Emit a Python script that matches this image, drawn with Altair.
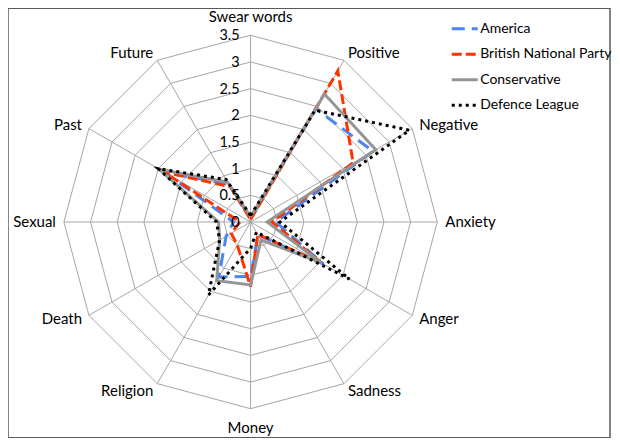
import altair as alt
import pandas as pd

categories = ["Swear words", "Positive", "Negative", "Anxiety", "Anger", "Sadness",
              "Money", "Religion", "Death", "Sexual", "Past", "Future"]
series_names = ["America", "British National Party", "Conservative", "Defence League"]
america = [0.08, 2.45, 2.65, 0.47, 1.58, 0.28, 1.02, 1.19, 0.53, 0.32, 1.85, 0.82]
bnp = [0.05, 3.27, 2.22, 0.40, 1.55, 0.27, 1.21, 0.50, 0.42, 0.20, 1.88, 0.76]
conservative = [0.10, 2.77, 2.71, 0.31, 1.53, 0.39, 1.18, 1.27, 0.67, 0.60, 1.98, 0.86]
defence = [0.12, 2.42, 3.44, 0.55, 2.14, 0.22, 0.49, 1.58, 0.67, 0.64, 2.00, 0.92]
tick_values = [0, 0.5, 1, 1.5, 2, 2.5, 3, 3.5]
tick_labels = ["0", "0.5", "1", "1.5", "2", "2.5", "3", "3.5"]

colors = ["#4a86f0", "#ff3300", "#959595", "#000000"]
dashes = [[13, 7], [10, 4], [1, 0], [3, 4]]
widths = [3, 3, 3.5, 3]

n = len(categories)
values = [america, bnp, conservative, defence]

rows = []
for name, vals in zip(series_names, values):
    for i in range(n + 1):
        rows.append({"series": name, "idx": i, "value": vals[i % n]})
lines_df = pd.DataFrame(rows)

ring_rows = []
for r in tick_values[1:]:
    for i in range(n + 1):
        ring_rows.append({"ring": r, "idx": i})
rings_df = pd.DataFrame(ring_rows)

spokes_df = pd.DataFrame({"idx": list(range(n)), "r": [tick_values[-1]] * n})
labels_df = pd.DataFrame({"idx": list(range(n)), "category": categories})
ticks_df = pd.DataFrame({"v": tick_values, "label": tick_labels})

W, H = 603, 430
xs = alt.Scale(domain=[-4.548, 6.738], nice=False, zero=False)
ys = alt.Scale(domain=[-4.043, 4.005], nice=False, zero=False)

ang = "datum.idx * PI / 6"

rings = alt.Chart(rings_df).mark_line(color="#a6a6a6", strokeWidth=1).transform_calculate(
    x=f"datum.ring * sin({ang})", y=f"datum.ring * cos({ang})"
).encode(
    x=alt.X("x:Q", scale=xs, axis=None),
    y=alt.Y("y:Q", scale=ys, axis=None),
    detail="ring:N",
    order="idx:Q",
)

spokes = alt.Chart(spokes_df).mark_rule(color="#a6a6a6", strokeWidth=1).transform_calculate(
    x=f"datum.r * sin({ang})", y=f"datum.r * cos({ang})", x0="0", y0="0"
).encode(
    x=alt.X("x0:Q", scale=xs, axis=None),
    y=alt.Y("y0:Q", scale=ys, axis=None),
    x2="x:Q",
    y2="y:Q",
)

leg = dict(title=None, orient="none", legendX=443, legendY=6,
           symbolType="stroke", symbolSize=676, symbolStrokeWidth=3,
           labelFont="Lato", labelFontSize=14, labelColor="#000000",
           rowPadding=3.5, labelOffset=1)

series = alt.Chart(lines_df).mark_line(strokeCap="butt", strokeJoin="miter").transform_calculate(
    x=f"datum.value * sin({ang})", y=f"datum.value * cos({ang})"
).encode(
    x=alt.X("x:Q", scale=xs, axis=None),
    y=alt.Y("y:Q", scale=ys, axis=None),
    color=alt.Color("series:N", scale=alt.Scale(domain=series_names, range=colors),
                    legend=alt.Legend(**leg)),
    strokeDash=alt.StrokeDash("series:N", scale=alt.Scale(domain=series_names, range=dashes),
                              legend=alt.Legend(**leg)),
    strokeWidth=alt.StrokeWidth("series:N", scale=alt.Scale(domain=series_names, range=widths), legend=None),
    order="idx:Q",
)

font = "Lato"
fs = 15

def cat_layer(filt, r, align, baseline):
    return alt.Chart(labels_df).transform_filter(filt).transform_calculate(
        x=f"{r} * sin({ang})", y=f"{r} * cos({ang})"
    ).mark_text(align=align, baseline=baseline, font=font, fontSize=fs, color="#000000").encode(
        x=alt.X("x:Q", scale=xs, axis=None),
        y=alt.Y("y:Q", scale=ys, axis=None),
        text="category:N",
    )

lab_right = cat_layer("datum.idx >= 1 && datum.idx <= 5", 3.65, "left", "middle")
lab_left = cat_layer("datum.idx >= 7 && datum.idx <= 11", 3.65, "right", "middle")
lab_top = cat_layer("datum.idx == 0", 3.74, "center", "alphabetic")
lab_bottom = cat_layer("datum.idx == 6", 3.74, "center", "top")

tick_text = alt.Chart(ticks_df).transform_calculate(x0="0").mark_text(
    align="right", baseline="middle", dx=-11, dy=1, font=font, fontSize=14.5, color="#000000"
).encode(
    x=alt.X("x0:Q", scale=xs, axis=None),
    y=alt.Y("v:Q", scale=ys, axis=None),
    text="label:N",
)

chart = alt.layer(rings, spokes, series, lab_right, lab_left, lab_top, lab_bottom, tick_text).properties(
    width=W, height=H, padding={"left": 0, "top": 0, "right": 0, "bottom": 0}
).configure_view(stroke="#5a5a5a", strokeWidth=1.5)

chart.save("out.html", embed_options={"renderer": "svg", "actions": False})
